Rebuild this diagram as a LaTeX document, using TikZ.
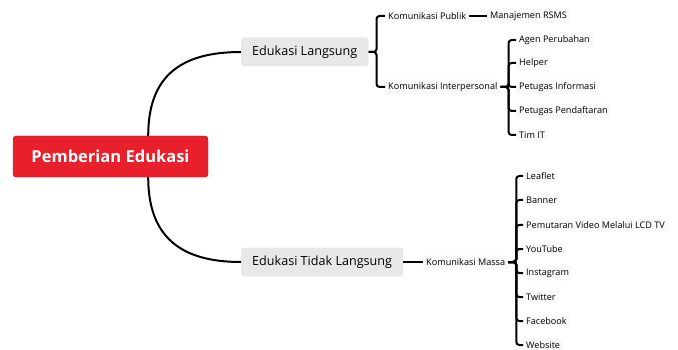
\documentclass[tikz,border=0pt]{standalone}
\usepackage{fontspec}
\setmainfont{Open Sans}
\usetikzlibrary{calc,positioning}
\definecolor{rootred}{HTML}{E8202B}

\begin{document}
\begin{tikzpicture}[x=1pt,y=-1pt,
    root/.style={rectangle, rounded corners=3pt, fill=rootred, draw=rootred!75!black, text=white, font=\fontsize{16.5}{19}\selectfont\bfseries, minimum width=195pt, minimum height=41pt},
    topic/.style={rectangle, rounded corners=3pt, fill=gray!18, font=\fontsize{12.6}{15}\selectfont, minimum height=29pt, inner xsep=11pt, anchor=west},
    leaf/.style={rectangle, rounded corners=2pt, fill=gray!5, font=\fontsize{9.1}{11}\selectfont, inner xsep=3pt, inner ysep=3pt, anchor=west},
    branch/.style={line width=2pt, rounded corners=3pt},
    curve/.style={line width=2pt}]

    \useasboundingbox (0,0) rectangle (678,350);

    \node[root] (root) at (110.5,156.5) {Pemberian Edukasi};

    \node[topic] (EL) at (241,52) {Edukasi Langsung};
    \node[topic] (ETL) at (241,262) {Edukasi Tidak Langsung};

    \draw[curve] ($(root.north east)+(-60,0)$) .. controls +(0,-60) and +(-60,0) .. (EL.west);
    \draw[curve] ($(root.south east)+(-60,0)$) .. controls +(0,60) and +(-60,0) .. (ETL.west);

    % edukasi langsung
    \node[leaf] (KP) at (385,16) {Komunikasi Publik};
    \node[leaf] (KI) at (385,87) {Komunikasi Interpersonal};
    \node[leaf] (MR) at (487,16) {Manajemen RSMS};

    \foreach \x in {KP,KI}{
        \draw[branch] (EL.east) -- ++(8,0) |- (\x.west);
    }
    \draw[branch] (KP.east) -- (MR.west);

    \foreach \x/ \t/ \y in {agen/Agen Perubahan/40, helper/Helper/63, info/Petugas Informasi/87, daftar/Petugas Pendaftaran/111, timit/Tim IT/135}{
        \node[leaf] (\x) at (516,\y) {\t};
        \draw[branch] (KI.east) -- ++(8,0) |- (\x.west);
    }

    % edukasi tidak langsung
    \node[leaf] (KM) at (423,262) {Komunikasi Massa};
    \draw[branch] (ETL.east) -- (KM.west);

    \foreach \x/ \t/ \y in {leaflet/Leaflet/176, banner/Banner/200, video/Pemutaran Video Melalui LCD TV/225, youtube/YouTube/249, insta/Instagram/273, twitter/Twitter/297, fb/Facebook/321, web/Website/345}{
        \node[leaf] (\x) at (523,\y) {\t};
        \draw[branch] (KM.east) -- ++(8,0) |- (\x.west);
    }

\end{tikzpicture}
\end{document}
